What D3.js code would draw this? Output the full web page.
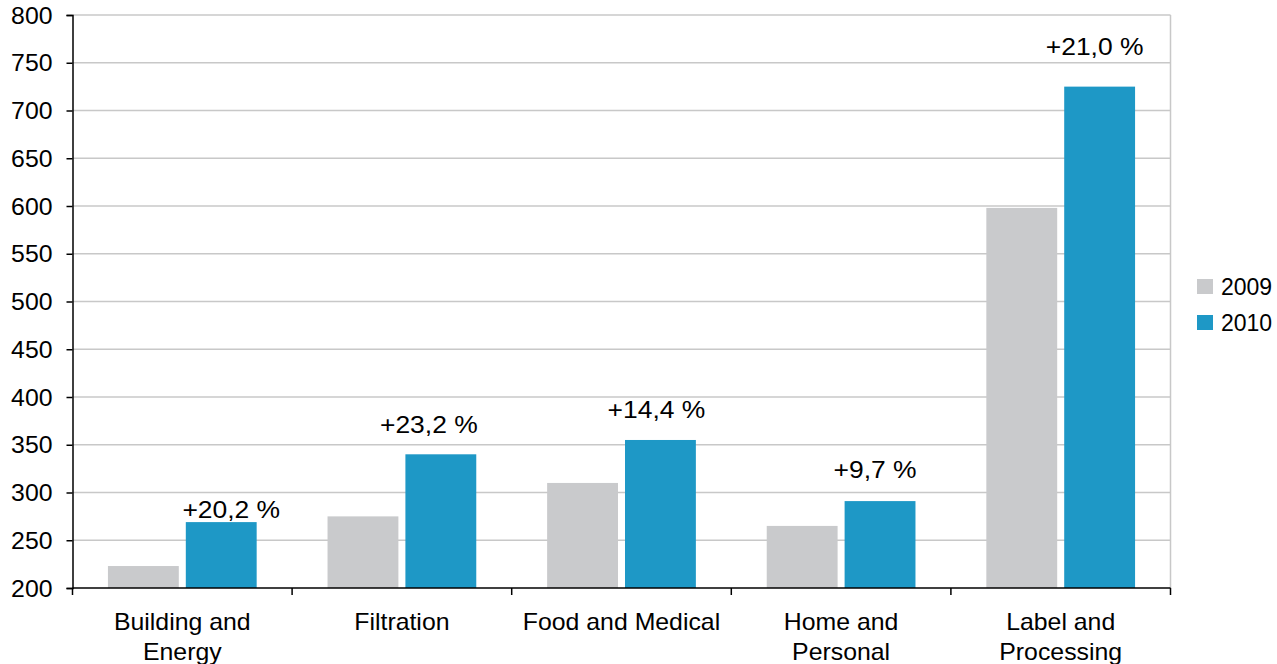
<!DOCTYPE html>
<html>
<head>
<meta charset="utf-8">
<script src="https://cdn.jsdelivr.net/npm/d3@7"></script>
<style>
  body { margin: 0; background: #fff; }
  text { font-family: "Liberation Sans", Arial, sans-serif; fill: #000; }
</style>
</head>
<body>
<div id="chart"></div>
<script>
// data
const categories = [["Building and", "Energy"], ["Filtration"], ["Food and Medical"], ["Home and", "Personal"], ["Label and", "Processing"]];
const series = ["2009", "2010"];
const values2009 = [223, 275, 310, 265, 598];
const values2010 = [269, 340, 355, 291, 725];
const growthLabels = ["+20,2 %", "+23,2 %", "+14,4 %", "+9,7 %", "+21,0 %"];
const yTicks = [200, 250, 300, 350, 400, 450, 500, 550, 600, 650, 700, 750, 800];

// hand nudges of the growth labels (they were placed by hand in the original)
const labelDx = [10, -12, -4, -5, -5];
const labelDy = [17, 0, -1, -2, -11];

const colors = { "2009": "#c9cacc", "2010": "#1e98c6" };

const width = 1277, height = 664;
const margin = { top: 15, right: 106.5, bottom: 76, left: 72.5 };
const plotW = width - margin.left - margin.right;
const plotH = height - margin.top - margin.bottom;

const svg = d3.select("#chart").append("svg")
    .attr("width", width)
    .attr("height", height);

const g = svg.append("g")
    .attr("transform", `translate(${margin.left},${margin.top})`);

const x0 = d3.scaleBand()
    .domain(d3.range(categories.length))
    .range([0, plotW])
    .padding(0);

const x1 = d3.scaleBand()
    .domain(series)
    .range([0, x0.bandwidth()])
    .paddingInner(0.09)
    .paddingOuter(0.455);

const y = d3.scaleLinear()
    .domain([200, 800])
    .range([plotH, 0]);

// gridlines
g.append("g")
    .selectAll("line")
    .data(yTicks.slice(1))
    .enter()
    .append("line")
    .attr("x1", 0)
    .attr("x2", plotW)
    .attr("y1", d => y(d))
    .attr("y2", d => y(d))
    .style("stroke", "#c8c8c8")
    .style("stroke-width", 1.5);

// right border of the plot area
g.append("line")
    .attr("x1", plotW).attr("x2", plotW)
    .attr("y1", 0).attr("y2", plotH)
    .style("stroke", "#c8c8c8")
    .style("stroke-width", 1.5);

// bars
const rows = categories.map((c, i) => ({ i: i, "2009": values2009[i], "2010": values2010[i] }));

const groups = g.append("g")
    .selectAll("g")
    .data(rows)
    .enter()
    .append("g")
    .attr("transform", d => `translate(${x0(d.i)},0)`);

groups.selectAll("rect")
    .data(d => series.map(s => ({ key: s, value: d[s] })))
    .enter()
    .append("rect")
    .attr("x", d => x1(d.key))
    .attr("width", x1.bandwidth())
    .attr("y", d => y(d.value))
    .attr("height", d => y(200) - y(d.value))
    .style("fill", d => colors[d.key]);

// growth labels above the 2010 bars
g.append("g")
    .selectAll("text")
    .data(growthLabels)
    .enter()
    .append("text")
    .attr("transform", (d, i) => {
        let cx = x0(i) + x1("2010") + x1.bandwidth() / 2 + labelDx[i];
        let cy = y(values2010[i]) - 21 + labelDy[i];
        return `translate(${cx},${cy}) scale(1.15,1)`;
    })
    .attr("text-anchor", "middle")
    .style("font-size", "23px")
    .text(d => d);

// y axis
const yAxis = g.append("g")
    .call(d3.axisLeft(y).tickValues(yTicks).tickSize(6).tickPadding(0).tickFormat(d3.format("d")));
yAxis.select(".domain").attr("stroke", "#000").attr("stroke-width", 1.5);
yAxis.selectAll(".tick line").attr("stroke", "#000").attr("stroke-width", 1.5);
yAxis.selectAll(".tick text")
    .attr("x", null)
    .attr("dy", null)
    .attr("transform", "translate(-20,8) scale(1.08,1)")
    .attr("text-anchor", "end")
    .style("font-size", "23px")
    .style("font-family", "'Liberation Sans', Arial, sans-serif");

// x axis: line plus boundary ticks
const xa = g.append("g").attr("transform", `translate(0,${plotH})`);
xa.append("line")
    .attr("x1", 0).attr("x2", plotW)
    .style("stroke", "#000").style("stroke-width", 1.5);
xa.selectAll(".bt")
    .data(d3.range(categories.length + 1))
    .enter()
    .append("line")
    .attr("x1", d => d * x0.step())
    .attr("x2", d => d * x0.step())
    .attr("y1", 0).attr("y2", 7)
    .style("stroke", "#000").style("stroke-width", 1.5);

// category labels (wrapped onto two lines)
const cat = xa.selectAll(".cat")
    .data(categories)
    .enter()
    .append("text")
    .attr("transform", (d, i) => `translate(${x0(i) + x0.bandwidth() / 2},42) scale(1.08,1)`)
    .attr("text-anchor", "middle")
    .style("font-size", "23px");
cat.selectAll("tspan")
    .data(d => d)
    .enter()
    .append("tspan")
    .attr("x", 0)
    .attr("y", (d, i) => i * 30)
    .text(d => d);

// legend
const legend = svg.append("g")
    .attr("transform", "translate(1197,279)");
const li = legend.selectAll("g")
    .data(series)
    .enter()
    .append("g")
    .attr("transform", (d, i) => `translate(0,${i * 36})`);
li.append("rect")
    .attr("width", 16)
    .attr("height", 15)
    .style("fill", d => colors[d]);
li.append("text")
    .attr("x", 24)
    .attr("y", 16)
    .style("font-size", "23px")
    .text(d => d);
</script>
</body>
</html>
